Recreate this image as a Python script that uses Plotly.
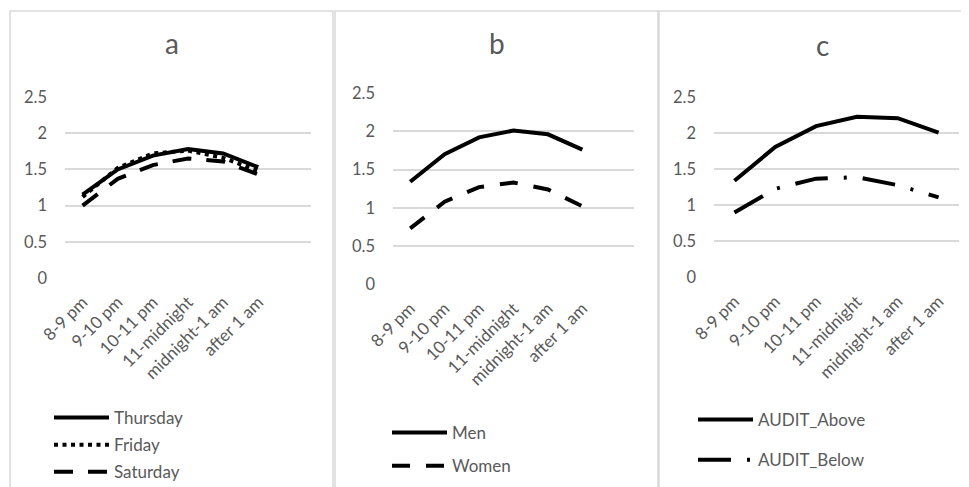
import plotly.graph_objects as go

W, H = 969, 487
OFF = 8  # page body margin in the browser

categories = ["8-9 pm", "9-10 pm", "10-11 pm", "11-midnight", "midnight-1 am", "after 1 am"]

# Panel a: day of week
thursday = [1.15, 1.50, 1.69, 1.78, 1.72, 1.53]
friday = [1.12, 1.52, 1.72, 1.76, 1.66, 1.48]
saturday = [1.00, 1.37, 1.56, 1.65, 1.61, 1.43]

# Panel b: gender
men = [1.34, 1.70, 1.92, 2.01, 1.96, 1.76]
women = [0.73, 1.08, 1.27, 1.33, 1.24, 1.02]

# Panel c: AUDIT
audit_above = [1.34, 1.81, 2.10, 2.23, 2.21, 2.01]
audit_below = [0.90, 1.23, 1.37, 1.39, 1.28, 1.11]

y_ticks = [0, 0.5, 1, 1.5, 2, 2.5]
y_ticktext = ["0", "0.5", "1", "1.5", "2", "2.5"]
panel_titles = ["a", "b", "c"]

FONT = "Lato"
TXT = "#595959"
GRID = "#D9D9D9"
LINE = "#000000"
LW = 4

def px_x(p):
    return (p - OFF) / W

def px_y(p):
    return 1 - (p - OFF) / H

fig = go.Figure()

series = [
    ("x", "y", "legend", "Thursday", thursday, "solid", "g1"),
    ("x", "y", "legend", "Friday", friday, "4px,4.5px", "g2"),
    ("x", "y", "legend", "Saturday", saturday, "19px,15px", "g3"),
    ("x2", "y2", "legend2", "Men", men, "solid", "g4"),
    ("x2", "y2", "legend2", "Women", women, "18px,16px", "g5"),
    ("x3", "y3", "legend3", "AUDIT_Above", audit_above, "solid", "g6"),
    ("x3", "y3", "legend3", "AUDIT_Below", audit_below, "33px,16px,3px,16px", "g7"),
]
for xa, ya, lg, name, vals, dash, grp in series:
    fig.add_trace(go.Scatter(
        x=categories, y=vals, mode="lines", name=name,
        xaxis=xa, yaxis=ya, legend=lg, legendgroup=grp,
        line=dict(color=LINE, width=LW, dash=dash),
        hoverinfo="skip",
    ))

# plot areas (pixel positions of grid)
areas = [
    dict(x0=65, x1=311, ytop=97, ybot=278, n=7),
    dict(x0=393, x1=634, ytop=93, ybot=284.3, n=7),
    dict(x0=714, x1=959, ytop=97.3, ybot=277.3, n=6),
]

layout = dict(
    width=W, height=H,
    margin=dict(l=0, r=0, t=0, b=0, autoexpand=False),
    paper_bgcolor="white", plot_bgcolor="white",
    font=dict(family=FONT, color=TXT),
)
for i, a in enumerate(areas):
    sfx = "" if i == 0 else str(i + 1)
    layout["xaxis" + sfx] = dict(
        domain=[px_x(a["x0"]), px_x(a["x1"])],
        anchor="y" + sfx,
        type="category",
        categoryorder="array", categoryarray=categories,
        range=[-0.5, a["n"] - 0.5],
        showgrid=False, showline=False, zeroline=False,
        ticks="", tickangle=-45, automargin=False,
        ticklabelstandoff=10,
        tickfont=dict(family=FONT, size=17, color=TXT),
        fixedrange=True,
    )
    layout["yaxis" + sfx] = dict(
        domain=[px_y(a["ybot"]), px_y(a["ytop"])],
        anchor="x" + sfx,
        range=[0, 2.5],
        tickvals=y_ticks, ticktext=y_ticktext,
        showgrid=True, gridcolor=GRID, gridwidth=1.5,
        zeroline=False, showline=False, ticks="", automargin=False,
        ticklabelstandoff=17,
        tickfont=dict(family=FONT, size=16.5, color=TXT),
        fixedrange=True,
    )

leg_font = dict(family=FONT, size=17, color=TXT)
layout["legend"] = dict(x=px_x(49), y=px_y(400), xanchor="left", yanchor="top",
                        font=leg_font, traceorder="grouped", tracegroupgap=2,
                        itemwidth=55,
                        bgcolor="rgba(0,0,0,0)")
layout["legend2"] = dict(x=px_x(387), y=px_y(415), xanchor="left", yanchor="top",
                         font=leg_font, traceorder="grouped", tracegroupgap=8,
                         itemwidth=55,
                         bgcolor="rgba(0,0,0,0)")
layout["legend3"] = dict(x=px_x(693), y=px_y(402), xanchor="left", yanchor="top",
                         font=leg_font, traceorder="grouped", tracegroupgap=15,
                         itemwidth=55,
                         bgcolor="rgba(0,0,0,0)")

# panel frames
frames = [(10, 333), (335, 658), (659, 985)]
shapes = []
for x0, x1 in frames:
    shapes.append(dict(type="rect", xref="paper", yref="paper",
                       x0=px_x(x0), x1=px_x(x1), y0=-0.1, y1=px_y(11),
                       line=dict(color=GRID, width=1.5), fillcolor="rgba(0,0,0,0)",
                       layer="below"))
layout["shapes"] = shapes

title_pos = [(171.5, 43), (496.5, 43), (822, 45)]
layout["annotations"] = [
    dict(text=t, x=px_x(tx), y=px_y(ty), xref="paper", yref="paper",
         xanchor="center", yanchor="middle", showarrow=False,
         font=dict(family=FONT, size=28, color=TXT))
    for t, (tx, ty) in zip(panel_titles, title_pos)
]

fig.update_layout(**layout)
fig.write_html("out.html")
